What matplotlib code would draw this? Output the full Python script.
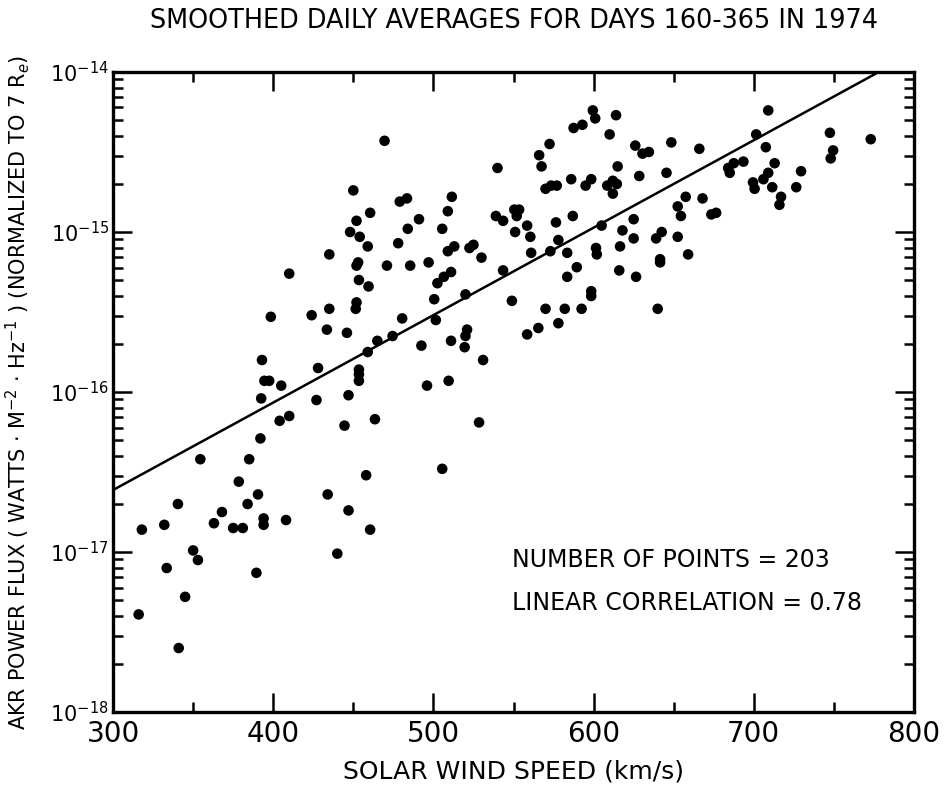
import numpy as np
import matplotlib
matplotlib.use("Agg")
import matplotlib.pyplot as plt
from matplotlib.ticker import FixedLocator, MultipleLocator, NullFormatter, LogFormatterSciNotation

plt.rcParams["font.family"] = ["DejaVu Sans"]

# Solar wind speed (km/s)
speed = [
    450, 460.5, 452, 448, 454, 459, 435, 410, 453, 452, 453.5, 459.5, 452, 451.5, 435,
    424, 398.5, 433.5, 446, 459, 393, 428, 394.5, 397.5, 405, 453.5, 453.5, 453.5,
    469.5, 540, 599.5, 601, 614, 587.5, 593, 610, 572.5, 566, 567.5, 626, 630.5, 615,
    628.5, 586, 598.5, 595, 570, 573.5, 577, 608.5, 612, 614.5, 612, 479, 483.5, 511.5,
    509, 491, 484, 505.5, 478, 471, 485.5, 497, 509, 513, 522.5, 525, 530, 539, 543.5,
    550.5, 553.5, 552, 551, 558.5, 560.5, 561, 576.5, 587, 578, 573, 583.5, 589.5, 583.5,
    605, 618, 625, 625, 616.5, 601.5, 602, 616, 626.5, 598.5, 598.5, 502.5, 506.5, 511,
    543.5, 500.5, 520, 549, 480.5, 501.5, 570, 582, 592.5, 578, 565.5, 558.5, 521, 520,
    519.5, 511, 492.5, 531, 496, 509.5, 474.5, 465,
    709, 701.5, 707.5, 747.5, 773, 749.5, 748, 648.5, 666, 634.5, 645.5, 684, 685, 687.5,
    693.5, 713, 709, 706, 699.5, 700.5, 711.5, 729.5, 726.5, 717, 716, 657.5, 668, 652.5,
    654.5, 673.5, 676.5, 642.5, 639, 652.5, 641.5, 641.5, 659, 640,
    392.5, 404, 410, 427, 447, 444.5, 463.5, 392, 354.5, 385, 378.5, 390.5, 384, 340.5,
    368, 363, 375, 381, 394, 394, 408, 332, 318, 434, 447, 458, 460.5, 440, 350, 353,
    333.5, 389.5, 345, 316, 341,
    528.5, 505.5,
]

# log10 of AKR power flux (W m^-2 Hz^-1)
log_flux = [
    -14.74, -14.88, -14.93, -15.00, -15.03, -15.09, -15.14, -15.26, -15.19, -15.21, -15.30,
    -15.34, -15.44, -15.48, -15.48, -15.52, -15.53, -15.61, -15.63, -15.75, -15.80, -15.85,
    -15.93, -15.93, -15.96, -15.86, -15.89, -15.93,
    -14.43, -14.60, -14.24, -14.29, -14.27, -14.35, -14.33, -14.39, -14.45, -14.52, -14.59,
    -14.46, -14.51, -14.59, -14.65, -14.67, -14.67, -14.71, -14.73, -14.71, -14.71, -14.71,
    -14.68, -14.70, -14.76, -14.81, -14.79, -14.78, -14.87, -14.92, -14.98, -14.98, -15.07,
    -15.21, -15.21, -15.19, -15.12, -15.09, -15.10, -15.08, -15.16, -14.90, -14.93, -14.86,
    -14.86, -14.90, -15.00, -14.96, -15.03, -15.13, -14.94, -14.90, -15.05, -15.12, -15.13,
    -15.22, -15.28, -14.96, -14.99, -14.92, -15.04, -15.09, -15.10, -15.14, -15.24, -15.28,
    -15.37, -15.40, -15.32, -15.28, -15.25, -15.24, -15.42, -15.39, -15.43, -15.54, -15.55,
    -15.48, -15.48, -15.48, -15.57, -15.60, -15.64, -15.61, -15.65, -15.72, -15.68, -15.71,
    -15.80, -15.96, -15.93, -15.65, -15.68,
    -14.24, -14.39, -14.47, -14.38, -14.42, -14.49, -14.54, -14.44, -14.48, -14.50, -14.63,
    -14.60, -14.63, -14.57, -14.56, -14.57, -14.63, -14.67, -14.69, -14.73, -14.72, -14.62,
    -14.72, -14.78, -14.83, -14.78, -14.79, -14.84, -14.90, -14.89, -14.88, -15.00, -15.04,
    -15.03, -15.17, -15.19, -15.14, -15.48,
    -16.04, -16.18, -16.15, -16.05, -16.02, -16.21, -16.17, -16.29, -16.42, -16.42, -16.56,
    -16.64, -16.70, -16.70, -16.75, -16.82, -16.85, -16.85, -16.79, -16.83, -16.80, -16.83,
    -16.86, -16.64, -16.74, -16.52, -16.86, -17.01, -16.99, -17.05, -17.10, -17.13, -17.28,
    -17.39, -17.60,
    -16.19, -16.48,
]

# Regression line end points
fit_speed = [300, 778]
fit_flux = [2.44e-17, 1.0e-14]

# Axis decades
y_decades = [1e-18, 1e-17, 1e-16, 1e-15, 1e-14]

n_points = 203
correlation = 0.78

flux = [10.0 ** v for v in log_flux]

fig = plt.figure(figsize=(9.45, 7.86), dpi=100)
ax = fig.add_axes([0.1196, 0.0941, 0.8476, 0.8143])

ax.scatter(speed, flux, s=58, color="black", edgecolors="none", zorder=3)
ax.plot(fit_speed, fit_flux, color="black", lw=1.8, zorder=2)

ax.set_yscale("log")
ax.set_xlim(300, 800)
ax.set_ylim(1e-18, 1e-14)

ax.xaxis.set_major_locator(MultipleLocator(100))
ax.xaxis.set_minor_locator(MultipleLocator(50))
ax.yaxis.set_major_locator(FixedLocator(y_decades))
ax.yaxis.set_major_formatter(LogFormatterSciNotation())
minor_y = [m * d for d in y_decades[:-1] for m in range(2, 10)]
ax.yaxis.set_minor_locator(FixedLocator(minor_y))
ax.yaxis.set_minor_formatter(NullFormatter())

for sp in ax.spines.values():
    sp.set_linewidth(2.4)

ax.tick_params(which="both", direction="in", top=True, right=True, width=1.8, colors="black")
ax.tick_params(which="major", length=14)
ax.tick_params(which="minor", length=7)
ax.tick_params(axis="x", which="major", labelsize=20, pad=6)
ax.tick_params(axis="y", which="major", labelsize=15, pad=3)

ax.set_xlabel("SOLAR WIND SPEED (km/s)", fontsize=18, labelpad=8)
ax.set_ylabel(r"AKR POWER FLUX ( WATTS $\cdot$ M$^{-2}$ $\cdot$ Hz$^{-1}$ ) (NORMALIZED TO 7 R$_{e}$)",
              fontsize=15)
ax.yaxis.set_label_coords(-0.101, 0.5)
ax.set_title("SMOOTHED DAILY AVERAGES FOR DAYS 160-365 IN 1974", fontsize=18.4, pad=32)

ax.text(0.498, 0.2375, f"NUMBER OF POINTS = {n_points}", transform=ax.transAxes,
        fontsize=17, va="center", ha="left")
ax.text(0.498, 0.170, f"LINEAR CORRELATION = {correlation}", transform=ax.transAxes,
        fontsize=17, va="center", ha="left")

fig.savefig("out.png", dpi=100)
